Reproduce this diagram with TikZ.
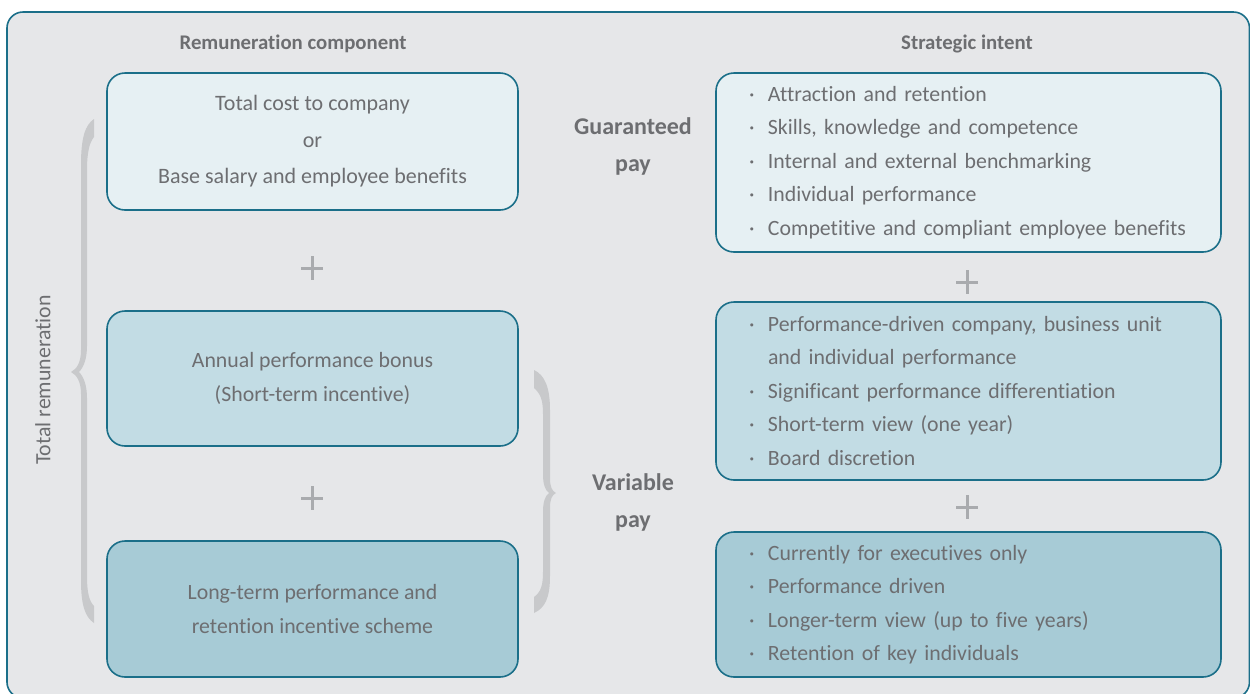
\documentclass[tikz,border=0pt]{standalone}
\usepackage{fontspec}
\setmainfont{Carlito}[Ligatures=NoCommon]
\definecolor{framebg}{HTML}{E6E7E9}
\definecolor{tealline}{HTML}{1B6F89}
\definecolor{txtgray}{HTML}{6D6E71}
\definecolor{bracegray}{HTML}{C8C9CB}
\definecolor{plusgray}{HTML}{A9ABAE}
\definecolor{fillA}{HTML}{E6F0F3}
\definecolor{fillB}{HTML}{C2DCE4}
\definecolor{fillC}{HTML}{A7CBD6}
\newcommand{\bodyfont}{\fontsize{10.9}{16.75}\selectfont}
\newcommand{\itm}[1]{\makebox[9.5pt][l]{·}#1}
\newcommand{\cnt}{\hspace*{9.5pt}}

\begin{document}
\begin{tikzpicture}[x=.5pt,y=-.5pt,
  box/.style={draw=tealline,line width=.8pt,rounded corners=9pt,text=txtgray,font=\bodyfont},
  lbox/.style={box,minimum width=205.5pt,align=center},
  rbox/.style={box,minimum width=252.5pt,text width=219.5pt,inner xsep=16.5pt,align=left},
  head/.style={text=txtgray,font=\bfseries\fontsize{10.4}{13}\selectfont},
  pay/.style={text=txtgray,align=center,font=\bfseries\fontsize{12}{18.5}\selectfont},
  brace/.style={fill=bracegray},
  plusmark/.style={draw=plusgray,line width=1.5pt}]
\clip (0,0) rectangle (1250,693);
\fill[white] (0,0) rectangle (1250,693);
%outer frame
\draw[tealline,fill=framebg,line width=.8pt,rounded corners=8pt] (7,12) rectangle (1249.5,698);
\node[head] (hrem) at (293,44) {Remuneration component};
\node[head] (hstr) at (967,44) {Strategic intent};
%remuneration components
\node[lbox,fill=fillA,minimum height=68.5pt,font=\fontsize{11}{18.25}\selectfont] (tcc) at (312.5,141.5)
  {Total cost to company\\or\\Base salary and employee benefits};
\node[lbox,fill=fillB,minimum height=67.5pt] (sti) at (312.5,378.5)
  {Annual performance bonus\\(Short-term incentive)};
\node[lbox,fill=fillC,minimum height=68pt] (lti) at (312.5,609)
  {Long-term performance and\\retention incentive scheme};
%strategic intent
\node[rbox,fill=fillA,minimum height=89.5pt] (gint) at (968.5,162.5)
  {\itm{Attraction and retention}\\
   \itm{Skills, knowledge and competence}\\
   \itm{Internal and external benchmarking}\\
   \itm{Individual performance}\\
   \itm{Competitive and compliant employee benefits}};
\node[rbox,fill=fillB,minimum height=89pt] (sint) at (968.5,391)
  {\itm{Performance-driven company, business unit}\\
   \cnt and individual performance\\
   \itm{Significant performance differentiation}\\
   \itm{Short-term view (one year)}\\
   \itm{Board discretion}};
\node[rbox,fill=fillC,minimum height=72.5pt] (lint) at (968.5,604.5)
  {\itm{Currently for executives only}\\
   \itm{Performance driven}\\
   \itm{Longer-term view (up to five years)}\\
   \itm{Retention of key individuals}};
%pay labels
\node[pay] (gpay) at (633,146) {Guaranteed\\pay};
\node[pay] (vpay) at (633,502) {Variable\\pay};
\node[text=txtgray,font=\bodyfont,rotate=90] (totrem) at (43,380) {Total remuneration};
%braces
\fill[brace] (94,119) .. controls (85,125) and (81,138) .. (81,165) -- (81,350)
  .. controls (81,362) and (77,369) .. (71,372) .. controls (77,375) and (81,382) .. (81,394)
  -- (81,580) .. controls (81,605) and (85,617) .. (94,623) -- (94,606)
  .. controls (89,601) and (87,592) .. (87,576) -- (87,398) .. controls (87,386) and (84,377) .. (79,372)
  .. controls (84,367) and (87,358) .. (87,346) -- (87,170) .. controls (87,154) and (89,143) .. (94,137) -- cycle;
\fill[brace] (534,370) .. controls (545,375) and (550,388) .. (550,410) -- (550,478)
  .. controls (550,487) and (552,491) .. (556,493) .. controls (552,495) and (550,499) .. (550,508)
  -- (550,576) .. controls (550,598) and (545,608) .. (534,613) -- (534,597)
  .. controls (541,592) and (543,585) .. (543,572) -- (543,512) .. controls (543,502) and (545,496) .. (549,493)
  .. controls (545,490) and (543,484) .. (543,474) -- (543,414) .. controls (543,401) and (541,394) .. (534,388) -- cycle;
%plus signs
\foreach \px/\py in {312/268,312/498,967/282,967/507}
  \draw[plusmark] ({\px-11},\py) -- ({\px+11},\py) (\px,{\py-12}) -- (\px,{\py+12});
\end{tikzpicture}
\end{document}
